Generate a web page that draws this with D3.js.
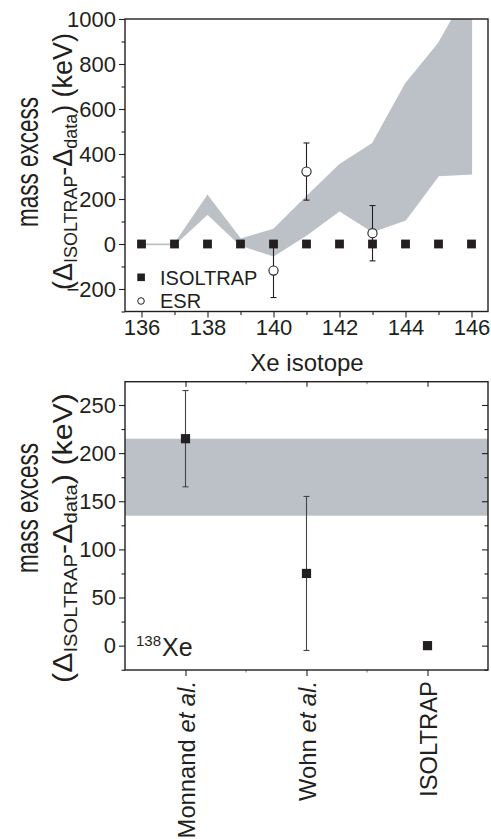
<!DOCTYPE html>
<html><head><meta charset="utf-8">
<script src="https://cdn.jsdelivr.net/npm/d3@7"></script>
<style>body{margin:0;background:#fff}svg{display:block;font-family:"Liberation Sans",Arial,sans-serif}</style>
</head><body><svg id="c" width="491" height="839"></svg>
<script>
// ---- Top panel data ----
const isotopes = [136,137,138,139,140,141,142,143,144,145,146];
const isoltrapTop = [0,0,0,0,0,0,0,0,0,0,0];
const isoltrapTopErr = [0,0,0,0,0,0,0,0,0,0,8];
const bandUpper = [0,0,215,22,65,210,352,447,712,892,1150];
const bandLower = [-3,-3,133,-5,-53,40,148,55,107,304,311];
const esrIsotopes = [140,141,143];
const esrValues = [-118,322,48];
const esrErr = [120,127,123];
const topYTicks = [-200,0,200,400,600,800,1000];
const topXTicks = [136,138,140,142,144,146];

// ---- Bottom panel data ----
const sources = ["Monnand et al.","Wohn et al.","ISOLTRAP"];
const xe138Values = [215,75,0];
const xe138Err = [50,80,0];
const xe138Band = [135,215];
const bottomYTicks = [0,50,100,150,200,250];

const svg = d3.select("#c");
const ink = "#231f20";
const bandColor = "#bcc1c7";
const FONT = "Liberation Sans, Arial, sans-serif";

// ===== TOP PANEL =====
const T = {l:125, r:488, t:19, b:311.5};
const x = d3.scaleLinear().domain([135.5,146.5]).range([T.l,T.r]);
const y = d3.scaleLinear().domain([-300,1000]).range([T.b,T.t]);
const gTop = svg.append("g");
gTop.append("clipPath").attr("id","clipTop").append("rect")
  .attr("x",T.l).attr("y",T.t).attr("width",T.r-T.l).attr("height",T.b-T.t);

const bandData = isotopes.map((d,i)=>({x:d,u:bandUpper[i],l:bandLower[i]}));
gTop.append("path").datum(bandData).attr("clip-path","url(#clipTop)")
  .attr("fill",bandColor).attr("stroke",bandColor).attr("stroke-width",1.2)
  .attr("d",d3.area().x(d=>x(d.x)).y0(d=>y(d.l)).y1(d=>y(d.u)));

// axes
gTop.append("g").attr("transform",`translate(0,${T.b})`)
  .call(d3.axisBottom(x).tickValues(topXTicks).tickSize(6).tickPadding(2).tickFormat(d3.format("d")));
gTop.append("g").attr("transform",`translate(0,${T.b})`)
  .call(d3.axisBottom(x).tickValues(d3.range(137,146,2)).tickSize(3.5).tickFormat(""));
gTop.append("g").attr("transform",`translate(${T.l},0)`)
  .call(d3.axisLeft(y).tickValues(topYTicks).tickSize(6).tickPadding(3).tickFormat(d3.format("d")));
gTop.append("g").attr("transform",`translate(${T.l},0)`)
  .call(d3.axisLeft(y).tickValues(d3.range(-300,1000,200)).tickSize(3.5).tickFormat(""));
gTop.selectAll(".domain").remove();
gTop.append("rect").attr("x",T.l).attr("y",T.t).attr("width",T.r-T.l).attr("height",T.b-T.t)
  .attr("fill","none").attr("stroke",ink).attr("stroke-width",1.4);

// ESR error bars & points
const esr = esrIsotopes.map((d,i)=>({x:d,v:esrValues[i],e:esrErr[i]}));
const eg = gTop.append("g").attr("stroke",ink).attr("stroke-width",1.1);
esr.forEach(d=>{
  eg.append("line").attr("x1",x(d.x)).attr("x2",x(d.x)).attr("y1",y(d.v-d.e)).attr("y2",y(d.v+d.e));
  [d.v-d.e,d.v+d.e].forEach(v=>eg.append("line").attr("x1",x(d.x)-3).attr("x2",x(d.x)+3).attr("y1",y(v)).attr("y2",y(v)));
});
const iso = isotopes.map((d,i)=>({x:d,v:isoltrapTop[i],e:isoltrapTopErr[i]}));
iso.filter(d=>d.e>0).forEach(d=>{
  eg.append("line").attr("x1",x(d.x)).attr("x2",x(d.x)).attr("y1",y(d.v-d.e)).attr("y2",y(d.v+d.e));
});
gTop.selectAll(".sq").data(iso).join("rect")
  .attr("x",d=>x(d.x)-4.4).attr("y",d=>y(d.v)-4.4).attr("width",8.8).attr("height",8.8)
  .attr("fill",ink);
gTop.selectAll(".ci").data(esr).join("circle")
  .attr("cx",d=>x(d.x)).attr("cy",d=>y(d.v)).attr("r",4.6)
  .attr("fill","#fff").attr("stroke",ink).attr("stroke-width",1.1);

// legend
gTop.append("rect").attr("x",137.3).attr("y",273.5).attr("width",7.6).attr("height",7.6).attr("fill",ink);
gTop.append("text").attr("x",160).attr("y",284.5).attr("font-size",20).attr("fill",ink).text("ISOLTRAP");
gTop.append("circle").attr("cx",141).attr("cy",301).attr("r",3.3).attr("fill","#fff").attr("stroke",ink).attr("stroke-width",1);
gTop.append("text").attr("x",160).attr("y",308).attr("font-size",20).attr("fill",ink).text("ESR");

// x label
svg.append("text").attr("x",307).attr("y",370.5).attr("text-anchor","middle")
  .attr("font-size",24).attr("fill",ink).text("Xe isotope");

// ===== BOTTOM PANEL =====
const B = {l:125, r:488, t:381.7, b:670};
const xb = d3.scalePoint().domain(sources).range([B.l,B.r]).padding(0.5);
const yb = d3.scaleLinear().domain([-25.3,274.2]).range([B.b,B.t]);
const gB = svg.append("g");
gB.append("rect").attr("x",B.l).attr("y",yb(xe138Band[1])).attr("width",B.r-B.l)
  .attr("height",yb(xe138Band[0])-yb(xe138Band[1])).attr("fill",bandColor);
const step = xb.step();
const midTicks = sources.slice(0,-1).map(s=>xb(s)+step/2);
gB.append("g").attr("transform",`translate(${B.l},0)`)
  .call(d3.axisLeft(yb).tickValues(bottomYTicks).tickSize(6).tickPadding(3));
gB.append("g").attr("transform",`translate(${B.l},0)`)
  .call(d3.axisLeft(yb).tickValues(d3.range(-25,275,50)).tickSize(3.5).tickFormat(""));
gB.append("g").attr("transform",`translate(${B.r},0)`)
  .call(d3.axisLeft(yb).tickValues(bottomYTicks).tickSize(6).tickFormat(""));
gB.append("g").attr("transform",`translate(${B.r},0)`)
  .call(d3.axisLeft(yb).tickValues(d3.range(-25,275,50)).tickSize(3.5).tickFormat(""));
gB.append("g").attr("transform",`translate(0,${B.t})`)
  .call(d3.axisBottom(xb).tickSize(5).tickFormat(""));
gB.append("g").attr("transform",`translate(0,${B.b})`)
  .call(d3.axisBottom(xb).tickSize(6).tickFormat(""));
gB.selectAll(".domain").remove();
midTicks.forEach(m=>{
  gB.append("line").attr("x1",m).attr("x2",m).attr("y1",B.t).attr("y2",B.t+2.5).attr("stroke","#777");
  gB.append("line").attr("x1",m).attr("x2",m).attr("y1",B.b).attr("y2",B.b+2.5).attr("stroke","#777");
});
gB.append("rect").attr("x",B.l).attr("y",B.t).attr("width",B.r-B.l).attr("height",B.b-B.t)
  .attr("fill","none").attr("stroke",ink).attr("stroke-width",1.4);

const bd = sources.map((s,i)=>({s,v:xe138Values[i],e:xe138Err[i]}));
const bg = gB.append("g").attr("stroke","#444").attr("stroke-width",1.1);
bd.filter(d=>d.e>0).forEach(d=>{
  bg.append("line").attr("x1",xb(d.s)).attr("x2",xb(d.s)).attr("y1",yb(d.v-d.e)).attr("y2",yb(d.v+d.e));
  [d.v-d.e,d.v+d.e].forEach(v=>bg.append("line").attr("x1",xb(d.s)-3).attr("x2",xb(d.s)+3).attr("y1",yb(v)).attr("y2",yb(v)));
});
gB.selectAll(".sq").data(bd).join("rect")
  .attr("x",d=>xb(d.s)-4.6).attr("y",d=>yb(d.v)-4.6).attr("width",9.2).attr("height",9.2).attr("fill",ink);

// 138Xe label
const lab = gB.append("text").attr("x",136).attr("y",656).attr("fill",ink);
lab.append("tspan").attr("font-size",15).attr("dy",-10).text("138");
lab.append("tspan").attr("font-size",25).attr("dy",10).attr("dx",1).text("Xe");

// category labels
sources.forEach(s=>{
  const t = svg.append("text").attr("transform",`translate(${xb(s)+9.5},681) rotate(-90)`)
    .attr("text-anchor","end").attr("font-size",23.8).attr("fill",ink);
  const m = s.match(/^(.*?)( et al\.)$/);
  if(m){ t.append("tspan").text(m[1]+" "); t.append("tspan").attr("font-style","italic").text("et al."); }
  else t.text(s);
});

// tick label style
svg.selectAll(".tick text").attr("font-size",22).attr("fill",ink).attr("font-family",FONT);
svg.selectAll(".tick line").attr("stroke",ink).attr("stroke-width",1.1);

// y axis titles (Origin-style tall glyphs: stretched across the line)
function fitRotated(t, bx, cy, targetLen, thick){
  const len = t.node().getComputedTextLength();
  t.attr("transform",`translate(${bx},${cy}) rotate(-90) scale(${targetLen/len},${thick})`);
}
function yTitle(cy1, len1, cy2, len2){
  const a = svg.append("text").attr("text-anchor","middle").attr("font-size",23).attr("fill",ink).text("mass excess");
  fitRotated(a, 38, cy1, len1, 1.35);
  const t = svg.append("text").attr("text-anchor","middle").attr("font-size",21).attr("fill",ink);
  t.append("tspan").text("(Δ");
  t.append("tspan").attr("font-size",14).attr("dy",4).text("ISOLTRAP");
  t.append("tspan").attr("dy",-4).text("-Δ");
  t.append("tspan").attr("font-size",14).attr("dy",4).text("data");
  t.append("tspan").attr("dy",-4).text(") (keV)");
  fitRotated(t, 72, cy2, len2, 1.35);
}
yTitle(162,130,161.5,257);
yTitle(508,130,538,290);
</script></body></html>
